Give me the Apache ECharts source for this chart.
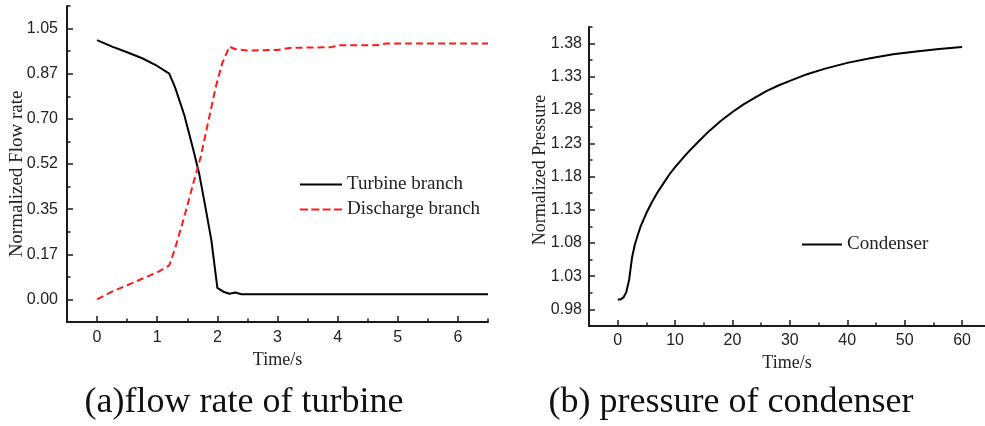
<!DOCTYPE html>
<html>
<head>
<meta charset="utf-8">
<script src="https://cdn.jsdelivr.net/npm/echarts@6/dist/echarts.min.js"></script>
<style>
  html, body { margin: 0; padding: 0; background: #fff; }
  #chart { width: 985px; height: 426px; }
</style>
</head>
<body>
<div id="chart"></div>
<script>
// (a) flow rate of turbine
const turbineTime = [0, 0.25, 0.5, 0.75, 1.0, 1.2, 1.3, 1.45, 1.6, 1.7, 1.8, 1.9, 2.0, 2.1, 2.2, 2.3, 2.4, 6.5];
const turbineFlow = [1.005, 0.98, 0.958, 0.935, 0.905, 0.875, 0.82, 0.715, 0.58, 0.485, 0.36, 0.23, 0.045, 0.03, 0.022, 0.027, 0.02, 0.02];
const dischargeTime = [0, 0.25, 0.5, 0.75, 1.0, 1.2, 1.3, 1.45, 1.6, 1.72, 1.85, 1.97, 2.08, 2.2, 2.3, 2.5, 3.0, 3.2, 3.9, 4.0, 4.7, 4.8, 6.5];
const dischargeFlow = [0, 0.03, 0.055, 0.08, 0.105, 0.132, 0.2, 0.32, 0.45, 0.55, 0.69, 0.82, 0.915, 0.98, 0.97, 0.965, 0.967, 0.975, 0.978, 0.985, 0.986, 0.992, 0.992];
const flowTicks = [0, 0.175, 0.35, 0.525, 0.7, 0.875, 1.05];
const flowTickLabels = ['0.00', '0.17', '0.35', '0.52', '0.70', '0.87', '1.05'];
const flowMinorTicks = [0.0875, 0.2625, 0.4375, 0.6125, 0.7875, 0.9625, 1.1375];
const timeTicks = [0, 1, 2, 3, 4, 5, 6];
const timeMinorTicks = [0.5, 1.5, 2.5, 3.5, 4.5, 5.5, 6.5];

// (b) pressure of condenser
const condenserTime = [0, 0.5, 1, 1.5, 2, 2.5, 3, 3.5, 4, 5, 6, 7, 8, 9, 10, 12, 14, 16, 18, 20, 22, 24, 26, 28, 30, 33, 36, 40, 44, 48, 52, 56, 60];
const condenserPressure = [0.995, 0.995, 0.998, 1.006, 1.025, 1.058, 1.078, 1.092, 1.105, 1.125, 1.142, 1.157, 1.170, 1.183, 1.194, 1.214, 1.232, 1.249, 1.264, 1.277, 1.289, 1.299, 1.309, 1.317, 1.324, 1.334, 1.342, 1.351, 1.358, 1.364, 1.368, 1.372, 1.375];
const pressureTicks = [0.98, 1.03, 1.08, 1.13, 1.18, 1.23, 1.28, 1.33, 1.38];
const pressureTickLabels = ['0.98', '1.03', '1.08', '1.13', '1.18', '1.23', '1.28', '1.33', '1.38'];
const pressureMinorTicks = [1.005, 1.055, 1.105, 1.155, 1.205, 1.255, 1.305, 1.355, 1.405];
const condTimeTicks = [0, 10, 20, 30, 40, 50, 60];
const condTimeMinorTicks = [5, 15, 25, 35, 45, 55];

const zip = (xs, ys) => xs.map((x, i) => [x, ys[i]]);
const pickLabel = (ticks, labels) => v => {
  const i = ticks.findIndex(t => Math.abs(t - v) < 1e-6);
  return i >= 0 ? labels[i] : '';
};

const ink = '#1a1a1a';
const serif = 'Liberation Serif, Times New Roman, serif';
const sans = 'Liberation Sans, Arial, sans-serif';
const red = '#ff1a1a';

const tickLabel = { fontFamily: sans, fontSize: 16, color: '#222' };

// main axis: line, major ticks, labels
function mainAxis(extra, ticks, labels, margin) {
  return Object.assign({
    type: 'value',
    axisLine: { show: true, onZero: false, lineStyle: { color: ink, width: 2 } },
    splitLine: { show: false },
    axisTick: { show: true, inside: true, length: 6, customValues: ticks, lineStyle: { color: ink, width: 1.5 } },
    axisLabel: Object.assign({ customValues: ticks, margin: margin, formatter: pickLabel(ticks, labels) }, tickLabel)
  }, extra);
}
// helper axis: only short minor ticks
function minorAxis(extra, ticks) {
  return Object.assign({
    type: 'value',
    axisLine: { show: false, onZero: false },
    splitLine: { show: false },
    axisTick: { show: true, inside: true, length: 3.5, customValues: ticks, lineStyle: { color: ink, width: 1.5 } },
    axisLabel: { show: false }
  }, extra);
}

const chart = echarts.init(document.getElementById('chart'));

const option = {
  backgroundColor: '#fff',
  animation: false,
  grid: [
    { left: 67, top: 6, right: 497, bottom: 104, outerBoundsMode: 'none', containLabel: false },
    { left: 589, top: 27, right: 0, bottom: 100, outerBoundsMode: 'none', containLabel: false }
  ],
  xAxis: [
    mainAxis({ gridIndex: 0, position: 'bottom', min: -0.5, max: 6.5, name: 'Time/s', nameLocation: 'middle', nameGap: 27,
      nameTextStyle: { fontFamily: serif, fontSize: 18, color: '#222' } },
      timeTicks, timeTicks.map(String), 8),
    minorAxis({ gridIndex: 0, position: 'bottom', min: -0.5, max: 6.5 }, timeMinorTicks),
    mainAxis({ gridIndex: 1, position: 'bottom', min: -5, max: 64, name: 'Time/s', nameLocation: 'middle', nameGap: 23,
      nameTextStyle: { fontFamily: serif, fontSize: 18, color: '#222' } },
      condTimeTicks, condTimeTicks.map(String), 7),
    minorAxis({ gridIndex: 1, position: 'bottom', min: -5, max: 64 }, condTimeMinorTicks)
  ],
  yAxis: [
    mainAxis({ gridIndex: 0, position: 'left', min: -0.0875, max: 1.1375 }, flowTicks, flowTickLabels, 9),
    minorAxis({ gridIndex: 0, position: 'left', min: -0.0875, max: 1.1375 }, flowMinorTicks),
    mainAxis({ gridIndex: 1, position: 'left', min: 0.955, max: 1.405 }, pressureTicks, pressureTickLabels, 7),
    minorAxis({ gridIndex: 1, position: 'left', min: 0.955, max: 1.405 }, pressureMinorTicks)
  ],
  legend: [
    {
      data: [
        { name: 'Turbine branch', icon: 'rect', itemStyle: { color: '#000' } },
        { name: 'Discharge branch', icon: 'path://M0,0h8v2h-8zM11.3,0h8v2h-8zM22.6,0h8v2h-8zM34,0h8v2h-8z', itemStyle: { color: red } }
      ],
      orient: 'vertical',
      left: 295,
      top: 170,
      itemWidth: 42,
      itemHeight: 2,
      itemGap: 6,
      textStyle: { fontFamily: serif, fontSize: 19, color: '#222' }
    },
    {
      data: [{ name: 'Condenser', icon: 'rect', itemStyle: { color: '#000' } }],
      left: 797,
      top: 230,
      itemWidth: 40,
      itemHeight: 2,
      textStyle: { fontFamily: serif, fontSize: 19, color: '#222' }
    }
  ],
  series: [
    {
      name: 'Turbine branch',
      type: 'line',
      xAxisIndex: 0, yAxisIndex: 0,
      symbol: 'none',
      lineStyle: { color: '#000', width: 2 },
      itemStyle: { color: '#000' },
      data: zip(turbineTime, turbineFlow)
    },
    {
      name: 'Discharge branch',
      type: 'line',
      xAxisIndex: 0, yAxisIndex: 0,
      symbol: 'none',
      lineStyle: { color: red, width: 2, type: [7, 4] },
      itemStyle: { color: red },
      data: zip(dischargeTime, dischargeFlow)
    },
    {
      name: 'Condenser',
      type: 'line',
      xAxisIndex: 2, yAxisIndex: 2,
      symbol: 'none',
      lineStyle: { color: '#000', width: 2 },
      itemStyle: { color: '#000' },
      data: zip(condenserTime, condenserPressure)
    }
  ],
  graphic: [
    { type: 'text', x: 17, y: 174, rotation: Math.PI / 2,
      style: { text: 'Normalized Flow rate', font: '19px ' + serif, fill: '#222', align: 'center', verticalAlign: 'middle' } },
    { type: 'text', x: 540, y: 170, rotation: Math.PI / 2,
      style: { text: 'Normalized Pressure', font: '18px ' + serif, fill: '#222', align: 'center', verticalAlign: 'middle' } },
    { type: 'text', x: 244, y: 403,
      style: { text: '(a)flow rate of turbine', font: '36px ' + serif, fill: '#111', align: 'center', verticalAlign: 'middle' } },
    { type: 'text', x: 731, y: 403,
      style: { text: '(b) pressure of condenser', font: '36px ' + serif, fill: '#111', align: 'center', verticalAlign: 'middle' } }
  ]
};

chart.setOption(option);
</script>
</body>
</html>
